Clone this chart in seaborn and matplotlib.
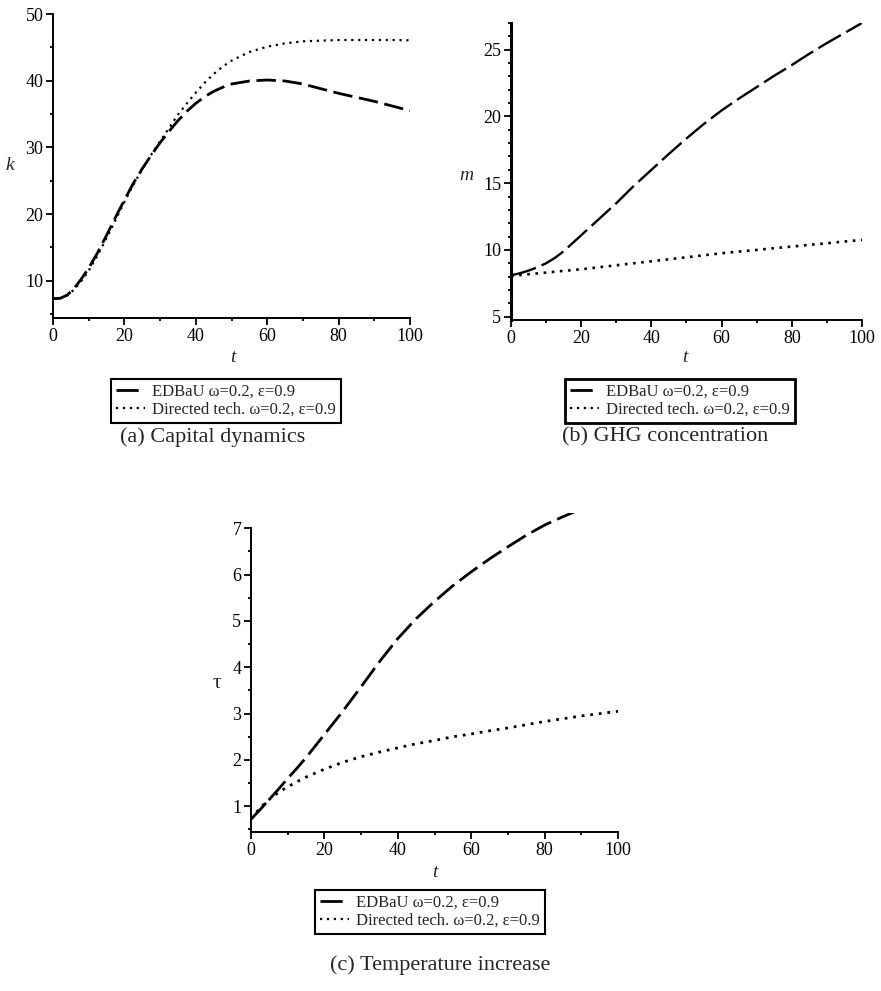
import numpy as np
import pandas as pd
import matplotlib
matplotlib.use("Agg")
import matplotlib.pyplot as plt
from matplotlib.lines import Line2D
from matplotlib.ticker import MultipleLocator
import seaborn as sns

# ---------------- data ----------------
t_a = [0, 2, 4, 6, 8, 10, 12.5, 15, 17.5, 20, 22.5, 25, 27.5, 30, 32.5, 35, 37.5, 40, 42.5, 45,
       47.5, 50, 55, 60, 65, 70, 75, 80, 85, 90, 95, 100]
k_edbau = [7.3, 7.35, 7.85, 8.9, 10.3, 11.9, 14.2, 16.8, 19.5, 22.1, 24.6, 26.8, 28.8, 30.7, 32.4,
           34.0, 35.4, 36.6, 37.6, 38.4, 39.0, 39.5, 39.95, 40.1, 39.95, 39.5, 38.8, 38.1, 37.5,
           36.9, 36.2, 35.5]
k_directed = [7.3, 7.35, 7.8, 8.7, 10.0, 11.5, 13.8, 16.4, 19.1, 21.8, 24.4, 26.7, 28.9, 30.9,
              32.9, 34.9, 36.6, 38.2, 39.7, 41.0, 42.1, 43.0, 44.3, 45.1, 45.6, 45.9, 46.0, 46.1,
              46.1, 46.1, 46.1, 46.05]

t_b = [0, 2.5, 5, 7.5, 10, 12.5, 15, 17.5, 20, 25, 30, 35, 40, 45, 50, 55, 60, 65, 70, 75, 80,
       85, 90, 95, 100]
m_edbau = [8.1, 8.25, 8.45, 8.7, 9.0, 9.4, 9.9, 10.5, 11.1, 12.3, 13.5, 14.8, 16.0, 17.2, 18.35,
           19.45, 20.45, 21.35, 22.2, 23.05, 23.85, 24.7, 25.5, 26.25, 27.0]
m_directed = [8.05, 8.12, 8.18, 8.24, 8.3, 8.37, 8.43, 8.49, 8.55, 8.7, 8.85, 9.0, 9.15, 9.3,
              9.45, 9.6, 9.75, 9.88, 10.0, 10.13, 10.25, 10.38, 10.5, 10.63, 10.75]

t_c = [0, 2.5, 5, 7.5, 10, 12.5, 15, 20, 25, 30, 35, 40, 45, 50, 55, 60, 65, 70, 75, 80, 85, 90,
       95, 100]
tau_edbau = [0.72, 0.93, 1.15, 1.37, 1.6, 1.82, 2.05, 2.55, 3.05, 3.58, 4.12, 4.62, 5.05, 5.42,
             5.76, 6.06, 6.34, 6.6, 6.85, 7.07, 7.25, 7.42, 7.58, 7.72]
tau_directed = [0.73, 0.97, 1.15, 1.3, 1.42, 1.53, 1.63, 1.80, 1.95, 2.07, 2.17, 2.26, 2.35, 2.42,
                2.50, 2.56, 2.63, 2.69, 2.76, 2.83, 2.89, 2.95, 3.0, 3.05]

series_names = ["EDBaU \u03c9=0.2, \u03b5=0.9", "Directed tech. \u03c9=0.2, \u03b5=0.9"]
captions = ["(a) Capital dynamics", "(b) GHG concentration", "(c) Temperature increase"]
ylabels = ["k", "m", "\u03c4"]

# ---------------- style ----------------
sns.set_theme(style="white")
plt.rcParams['font.family'] = ['Liberation Serif', 'DejaVu Serif']

W, H = 881, 991
fig = plt.figure(figsize=(W / 100, H / 100), dpi=100)


def rect(l, r, top, bot):
    return [l / W, 1 - bot / H, (r - l) / W, (bot - top) / H]


ax_a = fig.add_axes(rect(53, 410, 14, 318))
ax_b = fig.add_axes(rect(511, 862, 23, 320))
ax_c = fig.add_axes(rect(251, 618, 513, 832))


def make_df(t, a, b):
    return pd.DataFrame({
        "t": list(t) * 2,
        "val": list(a) + list(b),
        "series": [series_names[0]] * len(t) + [series_names[1]] * len(t),
    })


panels = [
    (ax_a, make_df(t_a, k_edbau, k_directed), (4.4, 50), (4.4, 50), 10, 5, 2.0, 1.6, (7, 2.4)),
    (ax_b, make_df(t_b, m_edbau, m_directed), (4.75, 27), (4.75, 27), 5, 1, 1.7, 1.9, (11, 2.6)),
    (ax_c, make_df(t_c, tau_edbau, tau_directed), (0.445, 7.33), (0.445, 7.0), 1, 0.5, 2.0, 2.0, (8, 2.4)),
]

for i, (ax, df, ylim, ybounds, ymaj, ymin, lw_d, lw_o, dsh) in enumerate(panels):
    sns.lineplot(data=df[df.series == series_names[0]], x="t", y="val", ax=ax,
                 color="black", lw=lw_d, legend=False)
    ax.lines[-1].set_dashes(dsh)
    sns.lineplot(data=df[df.series == series_names[1]], x="t", y="val", ax=ax,
                 color="black", lw=lw_o, legend=False)
    ax.lines[-1].set_dashes((1, 2.1))
    ax.set_xlim(0, 100)
    ax.set_ylim(*ylim)
    for s in ["top", "right"]:
        ax.spines[s].set_visible(False)
    ax.spines["left"].set_bounds(*ybounds)
    ax.spines["left"].set_linewidth(2.2 if i == 1 else 1.4)
    ax.spines["bottom"].set_linewidth(1.4)
    ax.spines["left"].set_color("black")
    ax.spines["bottom"].set_color("black")
    ax.xaxis.set_major_locator(MultipleLocator(20))
    ax.xaxis.set_minor_locator(MultipleLocator(10))
    ax.yaxis.set_major_locator(MultipleLocator(ymaj))
    ax.yaxis.set_minor_locator(MultipleLocator(ymin))
    ax.tick_params(which="major", direction="out", length=5, width=1.3, colors="black",
                   labelsize=13, left=True, bottom=True, pad=2)
    ax.tick_params(which="minor", direction="out", length=2.5, width=1.3, colors="black",
                   left=True, bottom=True)
    ax.set_xlabel("t", fontsize=14, style="italic")
    ax.set_ylabel(ylabels[i], fontsize=15 if i == 2 else 14,
                  style="normal" if i == 2 else "italic", rotation=0, va="center", ha="center")
    ax.set_facecolor("white")

ax_c.set_yticks([1, 2, 3, 4, 5, 6, 7])
ax_c.set_yticks(np.arange(0.5, 7.01, 0.5), minor=True)
ax_b.set_yticks(np.arange(5, 27.01, 1), minor=True)

ax_a.yaxis.set_label_coords(-0.12, 0.503)
ax_b.yaxis.set_label_coords(-0.128, 0.488)
ax_c.yaxis.set_label_coords(-0.093, 0.467)
ax_a.xaxis.set_label_coords(0.504, -0.103)
ax_b.xaxis.set_label_coords(0.496, -0.097)
ax_c.xaxis.set_label_coords(0.501, -0.100)

# legends
handles = [Line2D([], [], color="black", lw=2.0, dashes=(8, 2.5)),
           Line2D([], [], color="black", lw=1.6, dashes=(1, 2.1))]
leg_pos = [(226 / W, 1 - 401 / H), (680 / W, 1 - 401 / H), (430 / W, 1 - 912 / H)]
for j, pos in enumerate(leg_pos):
    leg = fig.legend(handles, series_names, loc="center", bbox_to_anchor=pos,
                     fontsize=12, frameon=True, fancybox=False, handlelength=1.75,
                     handletextpad=0.45, borderpad=0.3, labelspacing=0.12,
                     borderaxespad=0)
    fr = leg.get_frame()
    fr.set_edgecolor("black")
    fr.set_linewidth(2.0 if j == 1 else 1.5)
    fr.set_facecolor("white")
    fr.set_alpha(1)

fig.text(213 / W, 1 - 437 / H, captions[0], ha="center", va="center", fontsize=16)
fig.text(665 / W, 1 - 437 / H, captions[1], ha="center", va="center", fontsize=16)
fig.text(440 / W, 1 - 965 / H, captions[2], ha="center", va="center", fontsize=16)

fig.savefig("out.png", dpi=100, facecolor="white")
